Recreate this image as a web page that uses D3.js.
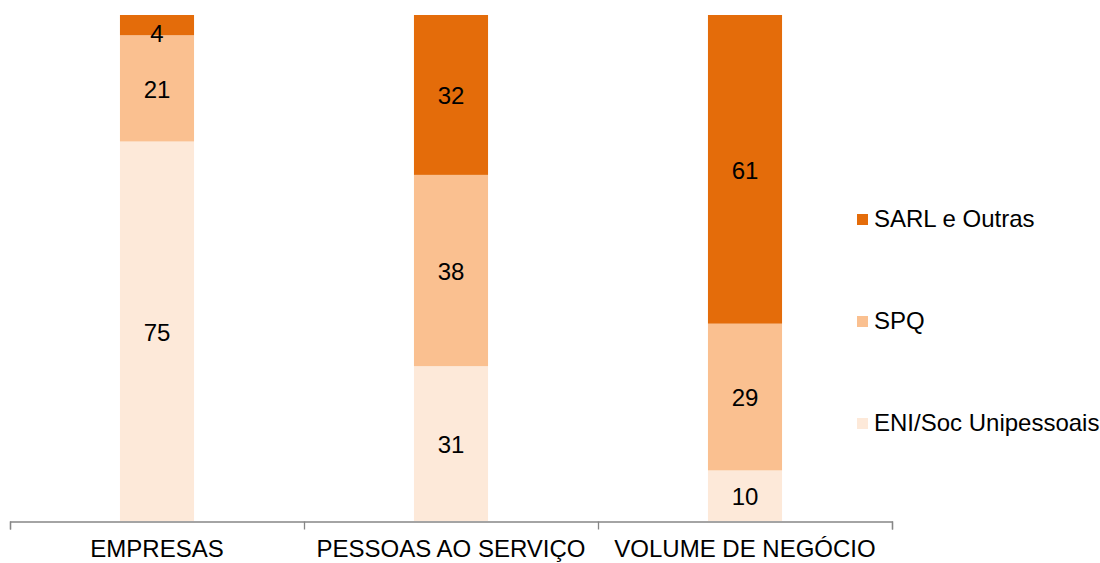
<!DOCTYPE html>
<html>
<head>
<meta charset="utf-8">
<script src="https://cdn.jsdelivr.net/npm/d3@7"></script>
<style>
  body { margin: 0; background: #fff; }
  text { font-family: "Liberation Sans", Arial, sans-serif; }
</style>
</head>
<body>
<div id="chart"></div>
<script>
// Data (percentages)
var categories = ["EMPRESAS", "PESSOAS AO SERVIÇO", "VOLUME DE NEGÓCIO"];
var seriesNames = ["ENI/Soc Unipessoais", "SPQ", "SARL e Outras"];
var eniValues = [75, 30.6, 10];
var spqValues = [21, 37.8, 29];
var sarlValues = [4, 31.6, 61];
var seriesColors = ["#FDE9D9", "#FAC090", "#E46C0A"];

var width = 1100, height = 563;

var svg = d3.select("#chart").append("svg")
    .attr("width", width)
    .attr("height", height);

// build rows for the stack
var rows = categories.map(function(c, i) {
  return { cat: c, eni: eniValues[i], spq: spqValues[i], sarl: sarlValues[i] };
});
var stack = d3.stack().keys(["eni", "spq", "sarl"]);
var layers = stack(rows);

var x = d3.scaleBand()
    .domain(categories)
    .range([10, 892])
    .paddingInner(0.748)
    .paddingOuter(0.374);

var y = d3.scaleLinear()
    .domain([0, 100])
    .range([521, 15]);

// bars
var layer = svg.selectAll(".layer")
  .data(layers)
  .enter().append("g")
    .attr("class", "layer")
    .style("fill", function(d, i) { return seriesColors[i]; });

layer.selectAll("rect")
  .data(function(d) { return d; })
  .enter().append("rect")
    .attr("x", function(d) { return x(d.data.cat); })
    .attr("y", function(d) { return y(d[1]); })
    .attr("width", x.bandwidth())
    .attr("height", function(d) { return y(d[0]) - y(d[1]); });

// value labels
layer.selectAll("text")
  .data(function(d) { return d; })
  .enter().append("text")
    .attr("x", function(d) { return x(d.data.cat) + x.bandwidth() / 2; })
    .attr("y", function(d) { return Math.max((y(d[0]) + y(d[1])) / 2 + 1, 34); })
    .attr("text-anchor", "middle")
    .attr("dy", "0.35em")
    .style("fill", "#000")
    .style("font-size", "24px")
    .text(function(d) { return d3.format(".0f")(d[1] - d[0]); });

// axis with ticks between categories
var tickScale = d3.scaleLinear().domain([0, categories.length]).range(x.range());
var axis = svg.append("g")
    .attr("transform", "translate(0,521.5)")
    .call(d3.axisBottom(tickScale)
      .tickValues(d3.range(categories.length + 1))
      .tickSize(8)
      .tickFormat(""));
axis.select(".domain").attr("stroke", "#868686").attr("stroke-width", 1.3);
axis.selectAll(".tick line").attr("stroke", "#868686").attr("stroke-width", 1.3);

svg.append("g").selectAll("text")
  .data(categories)
  .enter().append("text")
    .attr("x", function(d) { return x(d) + x.bandwidth() / 2; })
    .attr("y", 557)
    .attr("text-anchor", "middle")
    .style("font-size", "24px")
    .style("fill", "#000")
    .text(function(d) { return d; });

// legend (top item is the last series)
var legend = svg.append("g")
    .attr("transform", "translate(857,214)");
var legendOrder = [2, 1, 0];
legendOrder.forEach(function(s, i) {
  legend.append("rect")
    .attr("x", 0)
    .attr("y", i * 102)
    .attr("width", 11)
    .attr("height", 11)
    .style("fill", seriesColors[s]);
  legend.append("text")
    .attr("x", 17)
    .attr("y", i * 102 + 13)
    .style("font-size", "24px")
    .style("fill", "#000")
    .text(seriesNames[s]);
});
</script>
</body>
</html>
